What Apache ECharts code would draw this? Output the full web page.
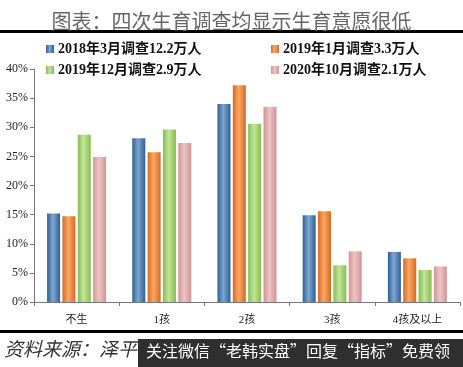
<!DOCTYPE html>
<html><head><meta charset="utf-8">
<script src="https://cdn.jsdelivr.net/npm/echarts@6/dist/echarts.min.js"></script>
<style>html,body{margin:0;padding:0;background:#fff}#c{width:463px;height:367px}</style>
</head><body><div id="c"></div>
<script>
const categories = ['不生', '1孩', '2孩', '3孩', '4孩及以上'];
const seriesNames = ['2018年3月调查12.2万人', '2019年1月调查3.3万人', '2019年12月调查2.9万人', '2020年10月调查2.1万人'];
const s2018_3 = [15.2, 28.1, 34.0, 14.9, 8.6];
const s2019_1 = [14.7, 25.7, 37.2, 15.6, 7.5];
const s2019_12 = [28.7, 29.6, 30.6, 6.3, 5.5];
const s2020_10 = [24.9, 27.3, 33.5, 8.7, 6.1];
const yTicks = [0, 5, 10, 15, 20, 25, 30, 35, 40];

const colors = [
  ['#2f5f93', '#7fa6d2'],
  ['#d9691e', '#f8a868'],
  ['#86bd4f', '#c3e59a'],
  ['#cf9595', '#efc4c4']
];
function grad(c) {
  return new echarts.graphic.LinearGradient(0, 0, 1, 0, [
    {offset: 0, color: c[0]}, {offset: 0.45, color: c[1]}, {offset: 1, color: c[0]}
  ]);
}
const data = [s2018_3, s2019_1, s2019_12, s2020_10];
const serif = '"Liberation Serif","Noto Sans CJK SC",serif';
const legendPos = [[46, 42], [271, 42], [46, 63], [271, 63]];
const chart = echarts.init(document.getElementById('c'));
chart.setOption({
  animation: false,
  title: {
    text: '图表：四次生育调查均显示生育意愿很低',
    left: 'center', top: 6,
    textStyle: {fontFamily: '"Noto Sans CJK SC"', fontSize: 20, fontWeight: 'normal', color: '#666'}
  },
  legend: seriesNames.map((n, i) => ({
    data: [n], left: legendPos[i][0], top: legendPos[i][1],
    itemWidth: 8, itemHeight: 8, itemGap: 0, padding: 0,
    textStyle: {fontFamily: serif, fontSize: 14, fontWeight: 'bold', color: '#111', padding: [0, 0, 0, -1]},
    icon: 'rect'
  })),
  grid: {left: 34, right: 3, top: 69, bottom: 65},
  xAxis: {
    type: 'category', data: categories,
    axisLine: {lineStyle: {color: '#777'}},
    axisTick: {show: true, length: 4, lineStyle: {color: '#777'}},
    axisLabel: {fontFamily: serif, fontSize: 11, color: '#222', margin: 13}
  },
  yAxis: {
    type: 'value', min: 0, max: 40, interval: 5,
    axisLine: {show: true, lineStyle: {color: '#777'}},
    axisTick: {show: true, length: 4, lineStyle: {color: '#777'}},
    splitLine: {show: false},
    axisLabel: {fontFamily: serif, fontSize: 12, color: '#222', margin: 6,
      formatter: v => yTicks.includes(v) ? v + '%' : ''}
  },
  series: data.map((d, i) => ({
    name: seriesNames[i], type: 'bar', data: d,
    barWidth: 13, barGap: '18%',
    itemStyle: {color: grad(colors[i])}
  })),
  color: colors.map(c => c[0]),
  graphic: [
    {type: 'rect', shape: {x: 0, y: 30, width: 463, height: 3}, style: {fill: '#000'}},
    {type: 'rect', shape: {x: 0, y: 330, width: 463, height: 3}, style: {fill: '#000'}},
    {type: 'text', left: 4, top: 339, style: {text: '资料来源：泽平宏观', fontFamily: '"Noto Sans CJK SC"', fontSize: 19, fontStyle: 'italic', fill: '#333'}},
    {type: 'rect', shape: {x: 138, y: 339, width: 325, height: 28}, style: {fill: '#2f2f2f'}},
    {type: 'text', left: 146, top: 343, style: {text: '关注微信“老韩实盘”回复“指标”免费领', fontFamily: '"Noto Sans CJK SC"', fontSize: 16, fill: '#fff'}}
  ]
});
</script></body></html>
